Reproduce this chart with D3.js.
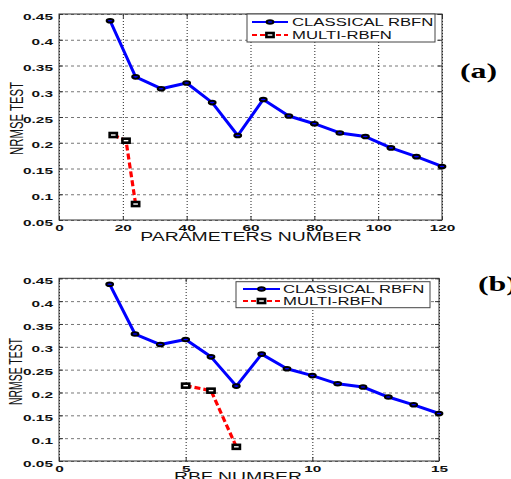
<!DOCTYPE html>
<html>
<head>
<meta charset="utf-8">
<script src="https://cdn.jsdelivr.net/npm/d3@7"></script>
<style>
body { margin: 0; background: #fff; }
svg { display: block; font-family: "Liberation Sans", Arial, sans-serif; }
</style>
</head>
<body>
<svg id="fig" width="511" height="479"></svg>
<script>
// values
const classicalParams = [16, 24, 32, 40, 48, 56, 64, 72, 80, 88, 96, 104, 112, 120];
const classicalRbf = [2, 3, 4, 5, 6, 7, 8, 9, 10, 11, 12, 13, 14, 15];
const classicalNrmse = [0.437, 0.328, 0.305, 0.316, 0.278, 0.214, 0.284, 0.252, 0.237, 0.219, 0.212, 0.190, 0.173, 0.154];
const multiParams = [17, 21, 24];
const multiRbf = [5, 6, 7];
const multiNrmse = [0.215, 0.204, 0.081];
const yTicks = [0.05, 0.1, 0.15, 0.2, 0.25, 0.3, 0.35, 0.4, 0.45];
const xTicksParams = [0, 20, 40, 60, 80, 100, 120];
const xTicksRbf = [0, 5, 10, 15];
const seriesNames = ["CLASSICAL RBFN", "MULTI-RBFN"];

const SX = 1.62; // the original figure was stretched sideways

const svg = d3.select("#fig");

function stretch(sel, k) {
    sel.each(function () {
        var L = this.getComputedTextLength();
        d3.select(this).attr("textLength", L * k).attr("lengthAdjust", "spacingAndGlyphs");
    });
}

function classicalMarker(sel) {
    sel.append("ellipse")
        .attr("rx", 3.4).attr("ry", 1.8)
        .attr("fill", "#0000ff").attr("stroke", "#000").attr("stroke-width", 2);
}

function multiMarker(sel) {
    sel.append("rect")
        .attr("x", -3.6).attr("y", -2).attr("width", 7.2).attr("height", 4)
        .attr("fill", "#fff").attr("stroke", "#000").attr("stroke-width", 2.6);
}

function panel(o) {
    var w = o.right - o.left, h = o.bottom - o.top;
    var x = d3.scaleLinear().domain(o.xDomain).range([0, w]);
    var y = d3.scaleLinear().domain([0.05, 0.45]).range([h, 0]);
    var g = svg.append("g").attr("transform", "translate(" + o.left + "," + o.top + ")");

    // grid
    g.append("g")
        .call(d3.axisLeft(y).tickValues(yTicks).tickSize(-w).tickFormat(""))
        .call(s => s.select(".domain").remove())
        .selectAll("line").attr("stroke", "#777").attr("stroke-dasharray", "3,3");
    g.append("g")
        .attr("transform", "translate(0," + h + ")")
        .call(d3.axisBottom(x).tickValues(o.xTicks).tickSize(-h).tickFormat(""))
        .call(s => s.select(".domain").remove())
        .selectAll("line").attr("stroke", "#222").attr("stroke-dasharray", "1,2");

    // axes with labels
    var yAxis = g.append("g")
        .call(d3.axisLeft(y).tickValues(yTicks).tickSize(-4).tickPadding(6).tickFormat(d3.format(".2~f")));
    var xAxis = g.append("g")
        .attr("transform", "translate(0," + h + ")")
        .call(d3.axisBottom(x).tickValues(o.xTicks).tickSize(-4).tickPadding(4));
    g.append("g")
        .call(d3.axisTop(x).tickValues(o.xTicks).tickSize(-4).tickFormat(""));
    g.append("g")
        .attr("transform", "translate(" + w + ",0)")
        .call(d3.axisRight(y).tickValues(yTicks).tickSize(-4).tickFormat(""));

    g.selectAll(".domain").remove();
    g.selectAll(".tick line").filter(function () { return !this.getAttribute("stroke-dasharray"); })
        .attr("stroke", "#333");
    [yAxis, xAxis].forEach(function (a) {
        a.attr("font-family", null).attr("font-size", null);
        a.selectAll("text").attr("font-size", 9.5).attr("font-weight", "bold").attr("fill", "#111");
    });
    yAxis.selectAll("text").attr("y", 2);

    g.append("rect")
        .attr("width", w).attr("height", h)
        .attr("fill", "none").attr("stroke", "#333").attr("stroke-width", 1);

    // series
    var line = d3.line().x(d => x(d[0])).y(d => y(d[1]));
    var classical = d3.zip(o.classicalX, classicalNrmse);
    var multi = d3.zip(o.multiX, multiNrmse);

    g.append("path").datum(classical).attr("d", line)
        .attr("fill", "none").attr("stroke", "#0000ff").attr("stroke-width", 3)
        .attr("stroke-linejoin", "round");
    g.append("path").datum(multi).attr("d", line)
        .attr("fill", "none").attr("stroke", "#ff0000").attr("stroke-width", 3.2)
        .attr("stroke-dasharray", "6,3");

    g.selectAll(".cm").data(classical).enter().append("g")
        .attr("transform", d => "translate(" + x(d[0]) + "," + y(d[1]) + ")")
        .call(classicalMarker);
    g.selectAll(".mm").data(multi).enter().append("g")
        .attr("transform", d => "translate(" + x(d[0]) + "," + y(d[1]) + ")")
        .call(multiMarker);

    // legend
    var lg = svg.append("g");
    lg.append("rect")
        .attr("x", o.legend.x0).attr("y", o.legend.y0)
        .attr("width", o.legend.x1 - o.legend.x0).attr("height", o.legend.y1 - o.legend.y0)
        .attr("fill", "#fff").attr("stroke", "#444");
    seriesNames.forEach(function (name, i) {
        var ly = o.legend.rows[i];
        lg.append("line")
            .attr("x1", o.legend.lx0).attr("x2", o.legend.lx1).attr("y1", ly).attr("y2", ly)
            .attr("stroke", i == 0 ? "#0000ff" : "#ff0000").attr("stroke-width", 2)
            .attr("stroke-dasharray", i == 0 ? null : "5,3");
        lg.append("g")
            .attr("transform", "translate(" + (o.legend.lx0 + o.legend.lx1) / 2 + "," + ly + ")")
            .call(i == 0 ? classicalMarker : multiMarker);
        lg.append("text")
            .attr("x", o.legend.tx).attr("y", ly + 3.5)
            .attr("font-size", 10).attr("fill", "#111")
            .text(name);
    });

    // axis titles
    var xt = svg.append("text")
        .attr("x", o.xLabel.x).attr("y", o.xLabel.y)
        .attr("text-anchor", "middle").attr("font-size", 12.5).attr("fill", "#111")
        .text(o.xLabel.text);
    var yt = svg.append("text")
        .attr("text-anchor", "middle").attr("dy", "0.36em")
        .attr("font-size", 18).attr("fill", "#111")
        .text("NRMSE TEST");
    // squeeze along the text so it stays tall but narrow, like the original
    var k = o.yLabel.len / yt.node().getComputedTextLength();
    yt.attr("transform", "translate(" + o.yLabel.x + "," + o.yLabel.y + ") rotate(-90) scale(" + k + ",1)");

    var tag = svg.append("text")
        .attr("x", o.tag.x).attr("y", o.tag.y)
        .attr("font-family", "'Liberation Serif', 'Times New Roman', serif")
        .attr("font-weight", "bold").attr("font-size", 22).attr("fill", "#000")
        .text(o.tag.text);

    stretch(yAxis.selectAll("text"), SX);
    stretch(xAxis.selectAll("text"), SX);
    stretch(lg.selectAll("text"), 1.67);
    stretch(xt, 1.55);
    stretch(tag, 1.45);
}

panel({
    left: 59, right: 442, top: 14, bottom: 220,
    xDomain: [0, 120], xTicks: xTicksParams,
    classicalX: classicalParams, multiX: multiParams,
    legend: { x0: 247, x1: 435, y0: 14, y1: 42, lx0: 252, lx1: 288, tx: 292, rows: [22, 35] },
    xLabel: { x: 251, y: 241, text: "PARAMETERS NUMBER" },
    yLabel: { x: 16.5, y: 118.5, len: 73 },
    tag: { x: 460, y: 78, text: "(a)" }
});

panel({
    left: 59, right: 439, top: 278.3, bottom: 461,
    xDomain: [0, 15], xTicks: xTicksRbf,
    classicalX: classicalRbf, multiX: multiRbf,
    legend: { x0: 236, x1: 430, y0: 281.7, y1: 307.7, lx0: 243, lx1: 280, tx: 283, rows: [289, 301] },
    xLabel: { x: 238, y: 481, text: "RBF NUMBER" },
    yLabel: { x: 16, y: 371.5, len: 67 },
    tag: { x: 478, y: 291, text: "(b)" }
});
</script>
</body>
</html>
